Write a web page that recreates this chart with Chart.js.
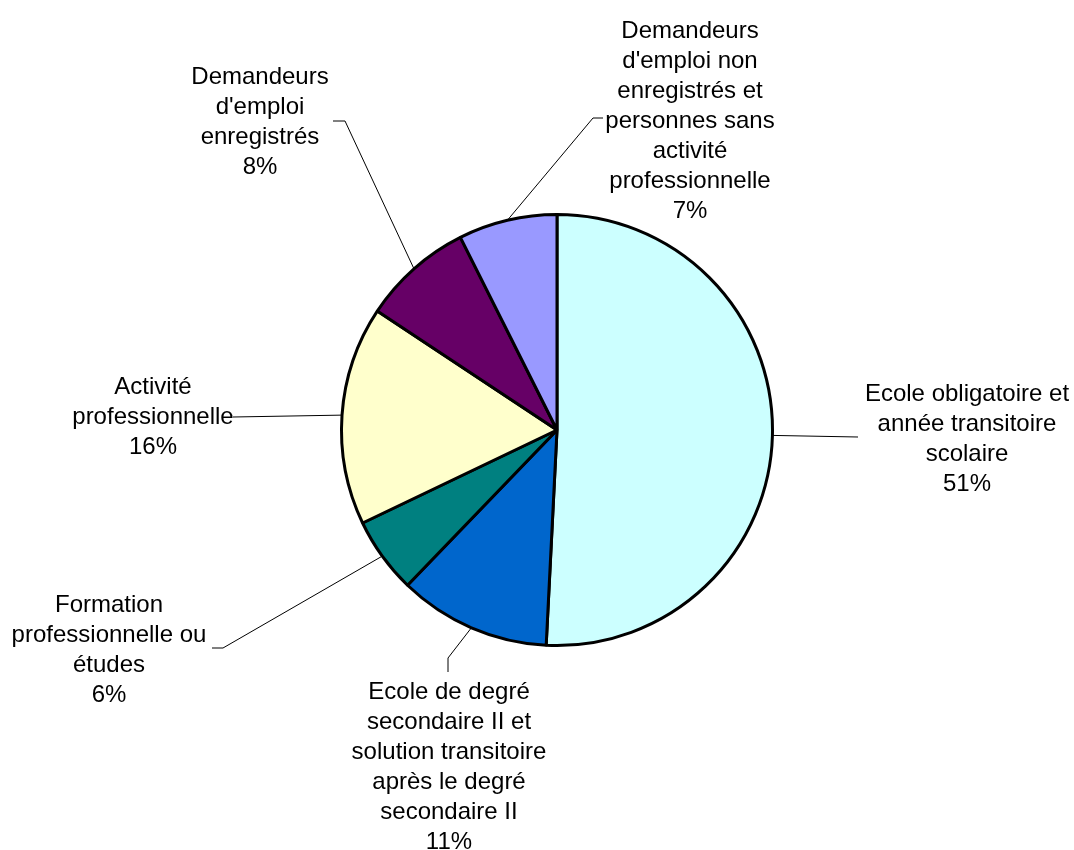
<!DOCTYPE html>
<html>
<head>
<meta charset="utf-8">
<script src="https://cdn.jsdelivr.net/npm/chart.js@4.4.1/dist/chart.umd.min.js"></script>
<style>
  body { margin: 0; background: #fff; }
  #wrap { width: 1074px; height: 850px; }
</style>
</head>
<body>
<div id="wrap"><canvas id="pieChart" width="1074" height="850"></canvas></div>
<script>
// categories (multi-line, as printed on the chart)
const categories = [
    ['Ecole obligatoire et', 'année transitoire', 'scolaire'],
    ['Ecole de degré', 'secondaire II et', 'solution transitoire', 'après le degré', 'secondaire II'],
    ['Formation', 'professionnelle ou', 'études'],
    ['Activité', 'professionnelle'],
    ['Demandeurs', "d'emploi", 'enregistrés'],
    ['Demandeurs', "d'emploi non", 'enregistrés et', 'personnes sans', 'activité', 'professionnelle']
];
// share in percent
const shares = [50.8, 11.4, 5.7, 16.4, 8.3, 7.4];
const sliceColors = ['#CCFFFF', '#0066CC', '#008080', '#FFFFCC', '#660066', '#9999FF'];

// where each label sits and how its leader line bends (layout only)
const labelLayout = [
    { x: 967, y: 394, path: [[858, 437]] },
    { x: 449, y: 692, path: [[448, 658], [448, 672]] },
    { x: 109, y: 605, path: [[223, 648], [212, 648]] },
    { x: 153, y: 387, path: [[233, 417]] },
    { x: 260, y: 77, path: [[345, 121], [333, 121]] },
    { x: 690, y: 31, path: [[593, 118], [603, 118]] }
];
const lineHeight = 30;

const outsideLabels = {
    id: 'outsideLabels',
    afterDraw(chart) {
        const ctx = chart.ctx;
        const arcs = chart.getDatasetMeta(0).data;
        ctx.save();
        arcs.forEach((arc, i) => {
            const p = arc.getProps(['x', 'y', 'startAngle', 'endAngle', 'outerRadius'], true);
            const mid = (p.startAngle + p.endAngle) / 2;
            const sx = p.x + Math.cos(mid) * p.outerRadius;
            const sy = p.y + Math.sin(mid) * p.outerRadius;
            const lay = labelLayout[i];

            ctx.strokeStyle = '#000';
            ctx.lineWidth = 1;
            ctx.beginPath();
            ctx.moveTo(sx, sy);
            lay.path.forEach(pt => ctx.lineTo(pt[0], pt[1]));
            ctx.stroke();

            const lines = categories[i].concat([Math.round(shares[i]) + '%']);
            ctx.fillStyle = '#000';
            ctx.font = '24px "Liberation Sans", Arial, sans-serif';
            ctx.textAlign = 'center';
            ctx.textBaseline = 'middle';
            lines.forEach((t, k) => ctx.fillText(t, lay.x, lay.y + k * lineHeight));
        });
        ctx.restore();
    }
};

new Chart(document.getElementById('pieChart').getContext('2d'), {
    type: 'pie',
    data: {
        labels: categories.map(c => c.join(' ')),
        datasets: [{
            data: shares,
            backgroundColor: sliceColors,
            borderColor: '#000',
            borderWidth: 3,
            hoverOffset: 0
        }]
    },
    options: {
        responsive: false,
        animation: false,
        layout: {
            padding: { left: 340, right: 300, top: 213, bottom: 203 }
        },
        plugins: {
            legend: { display: false },
            tooltip: { enabled: false }
        }
    },
    plugins: [outsideLabels]
});
</script>
</body>
</html>
